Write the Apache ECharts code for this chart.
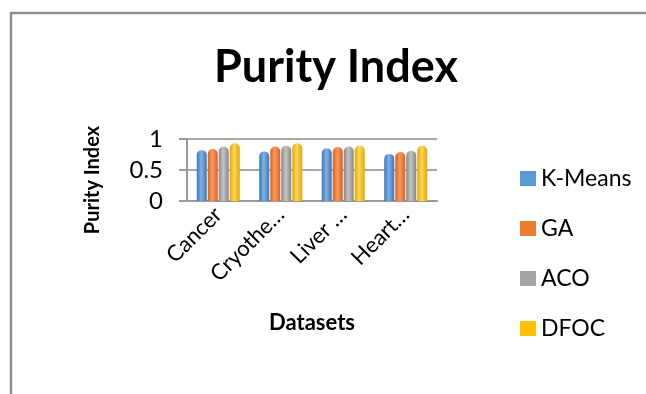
<!DOCTYPE html>
<html>
<head>
<meta charset="utf-8">
<script src="https://cdn.jsdelivr.net/npm/echarts@6/dist/echarts.min.js"></script>
<style>
  html, body { margin: 0; padding: 0; background: #fff; }
  #chart { width: 646px; height: 394px; }
</style>
</head>
<body>
<div id="chart"></div>
<script>
const datasets = ['Cancer', 'Cryothe…', 'Liver …', 'Heart…'];
const seriesNames = ['K-Means', 'GA', 'ACO', 'DFOC'];
const kMeans = [0.82, 0.80, 0.85, 0.76];
const ga = [0.84, 0.88, 0.87, 0.79];
const aco = [0.88, 0.89, 0.88, 0.81];
const dfoc = [0.93, 0.93, 0.89, 0.89];
const yTicks = [0, 0.5, 1];

const colors = [
  ['#3a76b8', '#7fb2e5', '#5b9bd5'],
  ['#d9621c', '#f79a60', '#ed7d31'],
  ['#888888', '#c4c4c4', '#a5a5a5'],
  ['#e0a800', '#ffd85a', '#ffc000']
];

function cyl(c) {
  return new echarts.graphic.LinearGradient(0, 0, 1, 0, [
    { offset: 0, color: c[0] },
    { offset: 0.45, color: c[1] },
    { offset: 1, color: c[0] }
  ]);
}

const values = [kMeans, ga, aco, dfoc];
const font = 'Lato, "Open Sans", sans-serif';

const chart = echarts.init(document.getElementById('chart'));
chart.setOption({
  animation: false,
  textStyle: { fontFamily: font },
  title: {
    text: 'Purity Index',
    left: 331,
    top: 40,
    textAlign: 'center',
    textStyle: { fontSize: 45, fontWeight: 'bold', color: '#000', fontFamily: font }
  },
  legend: {
    orient: 'vertical',
    left: 515,
    top: 162,
    itemWidth: 16,
    itemHeight: 15,
    itemGap: 27,
    icon: 'rect',
    data: seriesNames.map((n, i) => ({ name: n, itemStyle: { color: colors[i][2] } })),
    textStyle: { fontSize: 23, color: '#000', fontFamily: font }
  },
  grid: { left: 187, top: 139, width: 250, height: 62, containLabel: false },
  xAxis: {
    type: 'category',
    data: datasets,
    name: 'Datasets',
    nameLocation: 'middle',
    nameGap: 111,
    nameTextStyle: { fontSize: 22, fontWeight: 'bold', color: '#000' },
    axisLine: { lineStyle: { color: '#9a9a9a', width: 2 } },
    axisTick: { show: false },
    axisLabel: { rotate: 45, interval: 0, fontSize: 22, color: '#000', margin: 10 }
  },
  yAxis: {
    type: 'value',
    min: 0,
    max: 1,
    interval: 0.5,
    name: 'Purity Index',
    nameLocation: 'middle',
    nameGap: 84,
    nameTextStyle: { fontSize: 20, fontWeight: 'bold', color: '#000', padding: [0, 20, 0, 0] },
    axisLine: { show: true, lineStyle: { color: '#9a9a9a', width: 2 } },
    axisTick: { show: true, length: 8, lineStyle: { color: '#9a9a9a', width: 2 } },
    axisLabel: {
      fontSize: 24, color: '#000', margin: 24,
      formatter: v => yTicks.includes(v) ? String(v) : ''
    },
    splitLine: { lineStyle: { color: '#a8a8a8', width: 2 } }
  },
  series: seriesNames.map((name, i) => ({
    name: name,
    type: 'bar',
    data: values[i],
    barWidth: 10,
    barGap: '10%',
    itemStyle: { color: cyl(colors[i]), borderRadius: [5, 5, 0, 0] }
  })),
  color: colors.map(c => c[2]),
  graphic: [{
    type: 'rect',
    shape: { x: 11, y: 13, width: 700, height: 500 },
    style: { fill: 'none', stroke: '#8e8e8e', lineWidth: 2.5 },
    silent: true
  }]
});
</script>
</body>
</html>
